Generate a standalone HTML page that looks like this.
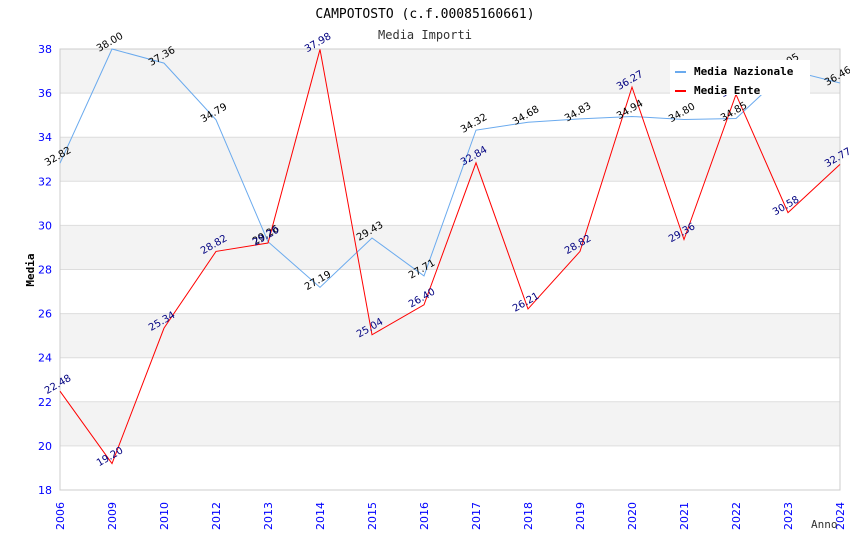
<!DOCTYPE html>
<html><head><meta charset="utf-8"><style>
body{margin:0;background:#fff;}
svg{font-family:"DejaVu Sans","Liberation Sans",sans-serif;}
</style></head><body>
<svg id="chart" width="850" height="550" xmlns="http://www.w3.org/2000/svg">
<text x="425" y="18" text-anchor="middle" font-family="DejaVu Sans Mono, Liberation Mono, monospace" font-size="13" fill="#000">CAMPOTOSTO (c.f.00085160661)</text>
<text x="425" y="39" text-anchor="middle" font-family="DejaVu Sans Mono, Liberation Mono, monospace" font-size="12" fill="#333">Media Importi</text>
<g id="bands"></g><g id="grid"></g><g id="axes"></g><g id="series"></g><g id="labels"></g>
<text transform="translate(34,270) rotate(-90)" text-anchor="middle" font-family="DejaVu Sans Mono, Liberation Mono, monospace" font-size="11" font-weight="bold">Media</text>
<text x="811" y="528" font-family="DejaVu Sans Mono, Liberation Mono, monospace" font-size="11" fill="#333">Anno</text>
<g>
<rect x="670" y="60" width="140" height="35" fill="#fff"/>
<rect x="675" y="71" width="11" height="2" fill="#6aaaee"/>
<text x="694" y="75" font-family="DejaVu Sans Mono, Liberation Mono, monospace" font-size="11" font-weight="bold">Media Nazionale</text>
<rect x="675" y="90" width="11" height="2" fill="#ff0000"/>
<text x="694" y="94" font-family="DejaVu Sans Mono, Liberation Mono, monospace" font-size="11" font-weight="bold">Media Ente</text>
</g>
</svg>
<script>
const categories=["2006","2009","2010","2012","2013","2014","2015","2016","2017","2018","2019","2020","2021","2022","2023","2024"];
const nazionale=[32.82,38.00,37.36,34.79,29.26,27.19,29.43,27.71,34.32,34.68,34.83,34.94,34.80,34.85,37.05,36.46];
const ente=[22.48,19.20,25.34,28.82,29.20,37.98,25.04,26.40,32.84,26.21,28.82,36.27,29.36,35.94,30.58,32.77];
const yTicks=[18,20,22,24,26,28,30,32,34,36,38];
const X0=60,X1=840,Y0=490,Y1=49,YMIN=18,YMAX=38;
const NS="http://www.w3.org/2000/svg";
function xs(i){return X0+i*(X1-X0)/(categories.length-1);}
function ys(v){return Y0-(v-YMIN)*(Y0-Y1)/(YMAX-YMIN);}
function mk(tag,attrs,parent){const e=document.createElementNS(NS,tag);for(const k in attrs)e.setAttribute(k,attrs[k]);document.getElementById(parent).appendChild(e);return e;}
for(let i=0;i<yTicks.length-1;i++){
  if(i%2===1){const b=mk('rect',{x:X0,y:ys(yTicks[i+1]),width:X1-X0,height:ys(yTicks[i])-ys(yTicks[i+1]),fill:'#f3f3f3'},'bands');
  
  }
}
yTicks.forEach(t=>{
  const l=mk('line',{x1:X0,x2:X1,y1:ys(t),y2:ys(t),stroke:'#dddddd','stroke-width':1},'grid');
  
  
  const tx=mk('text',{x:X0-8,y:ys(t)+4,'text-anchor':'end','font-size':11,fill:'#0000ff'},'axes');
  tx.textContent=t;
  
  
});
const fr=mk('rect',{x:X0,y:Y1,width:X1-X0,height:Y0-Y1,fill:'none',stroke:'#cccccc'},'axes');


categories.forEach((c,i)=>{
  const tx=mk('text',{transform:`translate(${xs(i)+4},530) rotate(-90)`,'font-size':11,fill:'#0000ff'},'axes');
  tx.textContent=c;
  
  
});
function series(data,color,name,lblColor){
  const p=mk('polyline',{points:data.map((v,i)=>xs(i)+','+ys(v)).join(' '),fill:'none',stroke:color,'stroke-width':1},'series');
  
  
  data.forEach((v,i)=>{
    const t=mk('text',{transform:`translate(${xs(i)-13},${ys(v)+3}) rotate(-30)`,'font-size':10,fill:lblColor},'labels');
    t.textContent=v.toFixed(2);
    
    
  });
}
series(nazionale,'#6aaaee','line-media-nazionale','#000000');
series(ente,'#ff0000','line-media-ente','#000080');
</script>
</body></html>
